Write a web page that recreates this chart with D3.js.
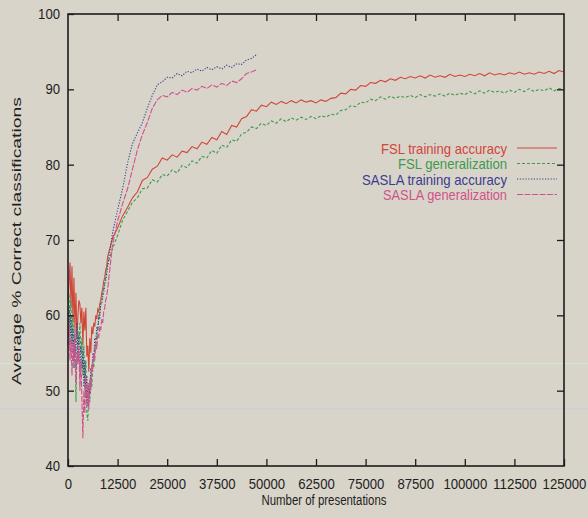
<!DOCTYPE html>
<html>
<head>
<meta charset="utf-8">
<script src="https://cdn.jsdelivr.net/npm/d3@7"></script>
<style>
  html, body { margin: 0; padding: 0; background: #d9d4c9; }
  svg { display: block; }
  text { font-family: "Liberation Sans", Arial, Helvetica, sans-serif; }
</style>
</head>
<body>
<svg id="chart" width="588" height="518"></svg>
<script>
// ---------- data ----------
const xTickValues = [0, 12500, 25000, 37500, 50000, 62500, 75000, 87500, 100000, 112500, 125000];
const yTickValues = [40, 50, 60, 70, 80, 90, 100];

// sample positions (number of presentations)
const xEarly = d3.range(0, 10000, 250);          // 40 samples
const xLate  = d3.range(10000, 125001, 1250);    // 93 samples
const xLateSASLA = xLate.slice(0, 31);           // up to 47500

const fslTrainEarly = [62, 64, 67, 61, 66.5, 59, 65, 58, 63, 57, 60, 62, 61.5, 59, 61, 56, 60.5, 58, 61, 54.5,
  56, 52.5, 57, 55, 58.5, 57.5, 59, 58.5, 60, 59.5, 60.8, 60.5, 61.5, 62, 63, 63.5, 64.5, 65, 66, 66.5];
const fslTrainLate = [67.8, 70.3, 71.6, 73.2, 74.3, 75.6, 76.4, 77.9, 78.3, 79.4, 79.8, 80.9, 80.6, 81.3, 81.0,
  81.8, 81.6, 82.4, 82.1, 83.0, 82.7, 83.6, 83.3, 84.4, 84.0, 85.2, 85.0, 86.1, 86.4, 87.3, 87.1, 87.9, 87.7,
  88.3, 88.0, 88.4, 88.1, 88.5, 88.2, 88.6, 88.3, 88.5, 88.2, 88.6, 88.4, 88.8, 88.9, 89.5, 89.4, 90.0, 89.9,
  90.5, 90.4, 90.9, 90.8, 91.2, 91.0, 91.4, 91.2, 91.6, 91.4, 91.7, 91.5, 91.8, 91.5, 91.9, 91.6, 91.8, 91.6,
  92.0, 91.7, 91.9, 91.7, 92.0, 91.8, 92.1, 91.8, 92.2, 91.9, 92.1, 91.9, 92.2, 92.0, 92.3, 92.0, 92.2, 92.0,
  92.3, 92.1, 92.4, 92.1, 92.5, 92.3];

const fslGenEarly = [60, 63, 58, 62, 56, 60, 54, 58, 48.5, 55, 58, 56, 59, 55, 57, 52, 56, 50, 54, 47,
  46, 50, 48.5, 52, 50.5, 54, 53, 56, 55.5, 57.5, 58, 59.5, 60.5, 61.5, 62, 63, 63.5, 64.5, 65, 66];
const fslGenLate = [66.8, 68.9, 70.6, 72.6, 73.8, 75.0, 75.6, 76.8, 76.9, 78.0, 77.7, 78.7, 78.5, 79.3, 78.9,
  79.9, 79.6, 80.5, 80.2, 81.1, 80.9, 81.9, 81.5, 82.6, 82.3, 83.3, 83.1, 84.1, 84.3, 85.0, 84.8, 85.5, 85.2,
  85.8, 85.5, 86.1, 85.7, 86.2, 85.9, 86.3, 86.0, 86.4, 86.1, 86.5, 86.3, 86.7, 86.6, 87.2, 87.3, 87.8, 87.7,
  88.3, 88.2, 88.7, 88.5, 89.0, 88.7, 89.1, 88.8, 89.1, 88.9, 89.2, 88.9, 89.3, 89.0, 89.3, 89.1, 89.4, 89.1,
  89.5, 89.2, 89.5, 89.3, 89.7, 89.4, 89.8, 89.5, 89.9, 89.6, 89.8, 89.5, 89.9, 89.6, 90.0, 89.7, 90.1, 89.7,
  90.0, 89.8, 90.2, 89.8, 90.1, 90.0];

const saslaTrainEarly = [58, 61, 56, 60, 55, 58.5, 53, 57, 55, 59, 54, 57.5, 52, 56, 53, 55.5, 50.5, 54, 49, 52,
  48, 51, 49.5, 53, 52, 55, 54.5, 57, 56.5, 58.5, 58, 60, 59.5, 61.5, 61.5, 62.5, 63, 64, 64.5, 65.5];
const saslaTrainLate = [66.5, 71.0, 74.0, 76.8, 80.2, 82.8, 84.2, 85.6, 87.5, 89.2, 90.6, 91.0, 91.6, 91.5, 92.1,
  91.8, 92.4, 92.2, 92.7, 92.4, 92.9, 92.6, 93.0, 92.7, 93.2, 92.9, 93.4, 93.3, 93.9, 94.1, 94.6];

const saslaGenEarly = [56, 59, 54, 57, 52, 56.5, 54, 58, 51, 55, 53.5, 56, 50, 54, 49, 43.7, 50, 47, 52, 48,
  51, 47.5, 51.5, 50, 53.5, 52.5, 55, 54, 56.5, 55.5, 57.5, 57, 58.5, 58, 59.5, 59, 60.5, 61, 62, 62.5];
const saslaGenLate = [63.5, 69.5, 72.5, 74.8, 76.8, 79.4, 82.0, 84.0, 85.6, 87.5, 88.6, 89.2, 89.0, 89.6, 89.3,
  89.9, 89.6, 90.1, 89.9, 90.4, 90.1, 90.6, 90.3, 90.8, 90.5, 91.1, 90.9, 91.4, 92.1, 92.3, 92.6];

const seriesNames = ["FSL training accuracy", "FSL generalization", "SASLA training accuracy", "SASLA generalization"];
const seriesColors = ["#cf463b", "#3d9a4e", "#3a3d8e", "#d0528c"];
const seriesDash = [null, "3,2", "1.2,1.6", "6,1.5"];
const legendWidths = [126, 109, 145, 124];

// ---------- build ----------
const zip = (xs, ys) => xs.map((x, i) => [x, ys[i]]);
const seriesData = [
  zip(xEarly.concat(xLate), fslTrainEarly.concat(fslTrainLate)),
  zip(xEarly.concat(xLate), fslGenEarly.concat(fslGenLate)),
  zip(xEarly.concat(xLateSASLA), saslaTrainEarly.concat(saslaTrainLate)),
  zip(xEarly.concat(xLateSASLA), saslaGenEarly.concat(saslaGenLate))
];

const svg = d3.select("#chart");
const W = 588, H = 518;
const L = 68, R = 564, T = 14, B = 466;

svg.append("rect").attr("width", W).attr("height", H).attr("fill", "#d9d4c9");

const x = d3.scaleLinear().domain([0, 125000]).range([L, R]);
const y = d3.scaleLinear().domain([40, 100]).range([B, T]);

// faint scanner streaks
svg.append("line").attr("x1", 0).attr("x2", W).attr("y1", y(53.6)).attr("y2", y(53.6))
  .attr("stroke", "#d2ecd2").attr("stroke-width", 1.2).attr("opacity", 0.8);
svg.append("line").attr("x1", 0).attr("x2", W).attr("y1", y(47.6)).attr("y2", y(47.6))
  .attr("stroke", "#cfcbe6").attr("stroke-width", 1.5).attr("opacity", 0.8);

// lines
const line = d3.line().x(d => x(d[0])).y(d => y(d[1]));
seriesData.forEach((data, i) => {
  svg.append("path")
    .datum(data)
    .attr("fill", "none")
    .attr("stroke", seriesColors[i])
    .attr("stroke-width", 1.1)
    .attr("stroke-dasharray", seriesDash[i])
    .attr("d", line);
});

// axes
const axisColor = "#1c1c1c";
const styleAxis = g => {
  g.select(".domain").remove();
  g.selectAll(".tick line").attr("stroke", axisColor).attr("stroke-width", 1.3);
  g.selectAll(".tick text").attr("fill", "#1e1e1e")
    .style("font-size", "14px")
    .attr("lengthAdjust", "spacingAndGlyphs")
    .attr("textLength", function () { return this.textContent.length * 7.3; });
};

svg.append("g").attr("transform", `translate(0,${B})`)
  .call(d3.axisBottom(x).tickValues(xTickValues).tickSize(-7).tickSizeOuter(0).tickPadding(13).tickFormat(d3.format("d")))
  .call(styleAxis);

svg.append("g").attr("transform", `translate(0,${T})`)
  .call(d3.axisTop(x).tickValues(xTickValues.slice(1, -1)).tickSize(-7).tickSizeOuter(0).tickFormat(""))
  .call(styleAxis);

svg.append("g").attr("transform", `translate(${L},0)`)
  .call(d3.axisLeft(y).tickValues(yTickValues).tickSize(-6).tickSizeOuter(0).tickPadding(8).tickFormat(d3.format("d")))
  .call(styleAxis);

svg.append("g").attr("transform", `translate(${R},0)`)
  .call(d3.axisRight(y).tickValues(yTickValues.slice(1, -1)).tickSize(-7).tickSizeOuter(0).tickFormat(""))
  .call(styleAxis);

// frame
svg.append("rect").attr("x", L).attr("y", T).attr("width", R - L).attr("height", B - T)
  .attr("fill", "none").attr("stroke", axisColor).attr("stroke-width", 1.6);

// axis titles
svg.append("text")
  .attr("x", (L + R) / 2 + 8).attr("y", 505)
  .attr("text-anchor", "middle")
  .attr("fill", "#1e1e1e")
  .style("font-size", "14px")
  .attr("textLength", 125).attr("lengthAdjust", "spacingAndGlyphs")
  .text("Number of presentations");

svg.append("text")
  .attr("transform", `translate(21,${(97 + 385) / 2}) rotate(-90) scale(1,0.75)`)
  .attr("text-anchor", "middle")
  .attr("fill", "#1e1e1e")
  .style("font-size", "18px")
  .attr("textLength", 288).attr("lengthAdjust", "spacingAndGlyphs")
  .text("Average % Correct classifications");

// legend
const legendBase = [153.5, 169, 184.5, 200];
seriesNames.forEach((name, i) => {
  svg.append("text")
    .attr("x", 507).attr("y", legendBase[i])
    .attr("text-anchor", "end")
    .attr("fill", seriesColors[i])
    .style("font-size", "15px")
    .attr("textLength", legendWidths[i]).attr("lengthAdjust", "spacingAndGlyphs")
    .text(name);
  svg.append("line")
    .attr("x1", 517).attr("x2", 557)
    .attr("y1", legendBase[i] - 5.5).attr("y2", legendBase[i] - 5.5)
    .attr("stroke", seriesColors[i])
    .attr("stroke-width", 1.2)
    .attr("stroke-dasharray", seriesDash[i]);
});
</script>
</body>
</html>
